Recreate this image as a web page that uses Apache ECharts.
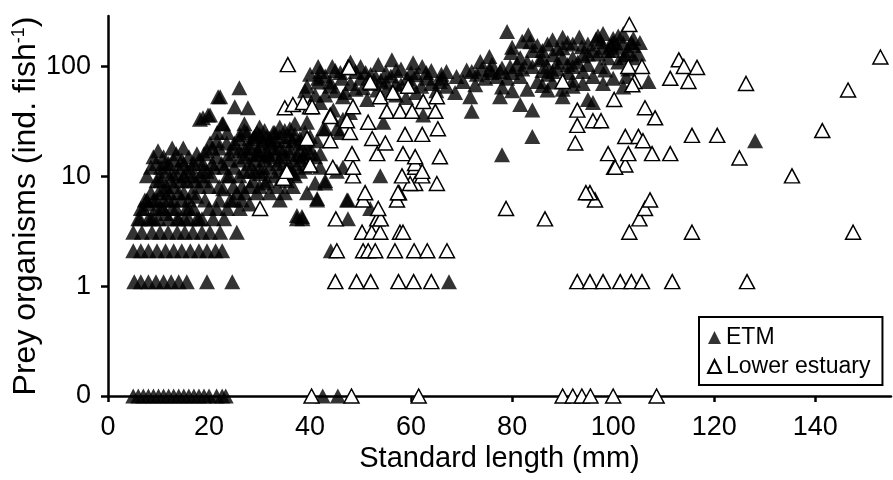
<!DOCTYPE html>
<html>
<head>
<meta charset="utf-8">
<script src="https://cdn.jsdelivr.net/npm/echarts@6/dist/echarts.min.js"></script>
<style>
  html, body { margin: 0; padding: 0; background: #fff; }
  #main { width: 893px; height: 480px; }
</style>
</head>
<body>
<div id="main"></div>
<script>
// [standard length (mm), prey organisms per fish]
const etmPoints = [
  // zero counts
  [5,0],[6,0],[7,0],[8,0],[9,0],[10,0],[11,0],[12,0],[13,0],[14,0],[15,0],[16,0],[17,0],[18,0],[19,0],[20,0],[21.5,0],[22.6,0],[23.3,0],[42.5,0],[45.5,0],
  // small counts
  [5.2,1],[6.5,1],[8,1],[9.5,1],[11,1],[12.5,1],[14,1],[15.6,1],[19.6,1],[24.6,1],[67.5,1],
  [5,2],[6.5,2],[8,2],[9.7,2],[11.4,2],[13,2],[14.6,2],[16.3,2],[18,2],[19.6,2],[21.3,2],[22.6,2],[44.1,2],
  [5,3],[6.7,3],[8.7,3],[10.3,3],[11.9,3],[13.7,3],[15.2,3],[16.8,3],[18.6,3],[20.2,3],[22.2,3],[25.5,3],[50.3,3],
  [6.3,4],[8,4],[9,4],[10.9,5],[13.7,4],[15.2,4],[17.6,4],[18.6,4],[20.8,4],[37.4,4],[38.5,4],[47.5,4],
  // 5-25 mm
  [7.3,6],[9.6,6],[10.9,7.5],[12.7,5],[14.6,6],[15.6,9],[16.6,7],[19.2,6],[18.8,11],[20.6,13],[19.6,17],
  [12.7,18],[14.9,18],[17.6,16],[20.2,20],[9.9,17],[9,15],[11.3,13],[7.7,10],[9.6,9],[11.6,8],[13.7,10],
  [14.6,14],[18.2,10],[7.7,6],[10.3,9],[11.6,11],[10.3,10],[12.7,10.5],[15.6,11],[16.8,10],[18.8,13],
  [6.5,5],[8.5,7],[12,6],[13,8],[16,5],[21.5,5],[22,8],
  [6,4],[7,5],[8,5.5],[8.5,4],[9,6],[9.5,5],[10,7],[10.5,5],[11,6],[11.5,4.5],[12,7],[12.5,9],[13,6],
  [13.5,5],[14,7],[14.5,9],[15,7],[15.5,5],[16,6],[17,5],[17.5,6.5],[18,8],[19,9],[19.5,11],[20,8],
  [20.5,10],[21,12],[21.5,15],[22,18],[22.5,13],[23,12],[23.5,20],[24,16],[8.5,12],[9.5,13],[10.5,12],
  [11,15],[12,13],[13,14],[13.5,16],[14,12],[15,13],[16,15],[16.5,12],[17,13],[18,14],[19,16],[17,9],
  [15,10],[10,4],[12,4],[14,4],[16,4],[18,4],[20,5],[22,6],[24,10],[23,4],
  [21.6,25],[22.6,30],[18.8,34],[20.2,36],[22.2,53],[25.1,43],[27.7,42],[26,64],[23.6,25],[24.8,18],
  [21.8,53],[18.2,33],[19.8,36],[22.8,30],[21.6,21],[20.6,18],
  // 25-45 mm
  [27.5,25],[28.7,22],[30.7,21],[32.7,25],[36,23],[29.7,17],[31.5,15.6],[23.6,10],[22.8,7.6],[24.8,8],
  [24.2,6],[23.6,5],[26.5,8],[28.7,9],[30.1,10.5],[31.5,9],[29.5,7],[33.5,8],[35.4,9],[37.4,4.3],
  [33.5,13],[35.4,12],[36.6,10.5],[26.1,24],[29.5,25],[31.5,23],[33,25],[35,21],[36.6,21],[28.1,18],
  [29.5,15.6],[31.5,17],[33,16],[34.7,17],[37.4,15.6],[40,13],[41.4,21],[42.6,27],[28.1,8],[31.1,8.6],
  [24.8,6],[26.1,5],[41.4,6],[38.4,4.2],[36.6,8],[39.4,7],[43,9],[42,12],[25,20],[27,18],[30,19],
  [32,20],[34,18],[38,20],[39,25],[37,30],[34,28],[30,28],[26,14],[28,13],[32,12],[34,14],[38,17],
  [36,18],[24,14],[27,30],[25,12],[29,11],[40,18],
  [26,22],[27,26],[28,20],[29,23],[30,24],[31,26],[32,22],[33,21],[34,23],[35,26],[36,27],[37,24],
  [38,22],[39,20],[40,23],[26,17],[27,15],[28,16],[29,14],[30,16],[31,14],[32,15],[33,18],[35,15],
  [36,16],[37,13],[38,14],[39,16],[40,16],[41,15],[26,10],[27,11],[28,11],[30,12],[31,11],[33,10],
  [34,11],[36,12],[37,10],[38,11],[39,12],[27,7],[30,8],[32,7],[34,6],[35,7],[26.5,6],[28,5.5],[25.5,7],
  // 40-70 mm
  [41.6,100],[44.4,100],[53.5,104],[56.2,115],[60.4,108],[62.2,100],[41.6,78],[44,72],[50.5,64],[53.3,61],
  [59.2,78],[63.2,78],[65.7,73],[51.3,50],[46.5,53],[42,47],[39.4,66],[44.6,40],[47.9,38],[62.4,36],
  [54.5,31],[39.4,31],[43,27],[45.9,25],[38.6,15],[42,16],[46.5,12],[53.9,10],[41,8.6],[43,8.6],
  [47.3,6],[41.4,6.2],[46.3,78],[47,58],[45.3,27],[46.5,33],[41.6,72],[44,66],[47.5,6],[51.9,5],
  [45.3,11],[49,90],[52,85],[57,70],[58,95],[55,88],[48,110],[50,100],[54,75],[60,88],[64,92],[66,85],
  [39,60],[40,85],[42,90],[43,82],[45,92],[46,88],[48,70],[49,62],[50,78],[51,88],[52,70],[53,80],
  [55,72],[56,82],[57,92],[58,68],[60,72],[61,84],[62,66],[63,88],[64,70],[65,60],[66,78],[67,90],
  [55,60],[57,55],[59,52],[61,58],[43,55],[45,60],[41,55],
  // 65-130 mm
  [67,66],[69,81],[70.3,73],[72,90],[72.7,68],[74.7,78],[75.6,93],[68.7,58],[71,93],[73.7,111],
  [75.5,123],[71.7,53],[72,39],[77.6,53],[81.6,45],[84,40],[84,23],[78,15.6],[95,50],[90,53],
  [87,61],[85,73],[81.6,81],[79,78],[77,81],[77.6,90],[87,100],[91,104],[95,104],[96,81],
  [85.5,115],[79.6,100],[79,208],[83.2,195],[83.6,168],[93.3,186],[96.6,178],[93.8,151],[79.8,134],[81.6,120],
  [88,128],[90,148],[97.6,168],[99.6,158],[102,164],[103.6,165],[105.3,165],[97.4,100],[98.4,93],[107,73],
  [102.6,81],[102.4,128],[96,47],[86,140],[89,110],[92,120],[94,90],[99,120],[100,140],[101,110],
  [103,95],[92,75],[82,95],[76,105],[85,155],[88,175],[91,165],[98,200],[101,190],[104,180],
  [73,85],[74,95],[76,88],[78,97],[80,88],[81,105],[83,110],[84,100],[86,92],[87,85],[88,90],[89,95],
  [90,120],[91,88],[92,100],[93,110],[94,125],[95,130],[96,140],[97,130],[98,150],[99,140],[100,165],
  [101,150],[102,120],[103,140],[104,120],[105,130],[80,150],[82,170],[84,140],[86,120],[87,160],
  [89,145],[90,185],[92,160],[95,160],[97,190],[100,180],[102,200],[104,155],[86,67],[88,72],[90,62],
  [92,66],[94,70],[98,70],[100,78],[102,65],[78,65],[80,60],[83,62],[128.1,21]
];

const lowerPoints = [
  [40.3,0],[48.2,0],[61.5,0],[90,0],[92,0],[93.8,0],[95.5,0],[100,0],[108.6,0],
  [45,1],[49.2,1],[52,1],[57.5,1],[60.5,1],[64,1],[92.9,1],[95.4,1],[98,1],[101.4,1],[103.6,1],[105.7,1],[111.7,1],[126.5,1],
  [45.3,2],[50.5,2],[51.5,2],[52.9,2],[56.8,2],[60.6,2],[63.2,2],[67.1,2],
  [50.3,3],[52.2,3],[53.9,3],[57.8,3],[58.4,3],[103.2,3],[115.6,3],[147.5,3],
  [45.1,4],[53.3,4],[54,4],[86.5,4],[105.2,4],
  [53.5,5],[78.8,5],[30.1,5],[106.3,5],
  [50.5,6],[57.2,6],[96.4,6],[107.3,6],
  [50.9,7],[57.6,7],[95.4,7],[94.6,7],[57.4,7],
  [60.8,8.5],[59.8,8.5],[65.1,8.5],[34.7,9.5],[35.4,11],
  [48.5,10],[58.2,10],[62.2,10],[135.4,10],
  [40,12.6],[48.5,12],[60.8,12],[44.5,12],[60.8,13],[62.2,11],[100.2,12],[102.4,12.6],[100.4,12],
  [48.3,16],[53.3,16],[58.4,16],[60.8,15],[65.7,15],[99,16],[103,16],[107.7,16],[111.3,16],[125,14.6],
  [39.4,22],[44,21],[47.9,25],[52.3,22],[54.9,20],[58.8,24],[62.2,24],[65.3,27],[92.5,20],[102.4,23],
  [105,23],[105.9,21],[115.6,23.5],[120.6,23.5],[141.4,26],
  [40,43],[44,36],[48.5,43],[51.5,31],[55.2,39],[57.8,39],[60.2,39],[62.4,48],[64.8,39],[35,42],
  [36.6,45],[38.6,47],[40.4,43],[44,35],[47.3,32],[92.9,40],[92.9,29],[96,32],[97.6,32],[100.2,50],
  [106.3,42],[108.3,34],
  [47.5,98],[51.9,72],[53.9,53],[56.4,58],[59.4,66],[65.1,53],[35.6,104],[47.7,98],[90,73],[113,115],
  [114,100],[116.6,98],[111.3,78],[114.9,73],[105.7,100],[103,100],[104.2,73],[103.8,68],[126.3,70],
  [146.5,61],[152.9,122],[103.2,241]
];

const xTicks = [0, 20, 40, 60, 80, 100, 120, 140];
const yTickCounts = [0, 1, 10, 100];

// counts drawn on a log scale, offset so that zero sits one decade below 1
const toLog = c => Math.log10(c + 0.1);
const yTickPos = [-1, 0, 1, 2];

const font = 'Liberation Sans, Arial, sans-serif';
const myChart = echarts.init(document.getElementById('main'));

const option = {
  backgroundColor: '#fff',
  animation: false,
  grid: { left: 108, right: 2, top: 16, bottom: 84, containLabel: false, outerBoundsMode: 'none' },
  xAxis: {
    type: 'value',
    min: 0,
    max: 155,
    name: 'Standard length (mm)',
    nameLocation: 'middle',
    nameGap: 48,
    nameMoveOverlap: false,
    nameTextStyle: { fontSize: 29, fontFamily: font, color: '#000' },
    splitLine: { show: false },
    axisLine: { onZero: false, lineStyle: { color: '#000', width: 2.5 } },
    axisTick: { customValues: xTicks, length: 6, lineStyle: { color: '#000', width: 2.5 } },
    axisLabel: { customValues: xTicks, margin: 18, fontSize: 27, fontFamily: font, color: '#000' }
  },
  yAxis: {
    type: 'value',
    min: -1,
    max: 2.46,
    name: 'Prey organisms (ind. fish{sup|-1})',
    nameLocation: 'middle',
    nameGap: 66,
    nameMoveOverlap: false,
    nameTextStyle: {
      fontSize: 32, fontFamily: font, color: '#000',
      rich: { sup: { fontSize: 18, fontFamily: font, color: '#000', verticalAlign: 'top', padding: [0, 0, 10, 0] } }
    },
    splitLine: { show: false },
    axisLine: { onZero: false, lineStyle: { color: '#000', width: 2.5 } },
    axisTick: { customValues: yTickPos, length: 7, lineStyle: { color: '#000', width: 2.5 } },
    axisLabel: {
      customValues: yTickPos,
      margin: 17, fontSize: 27, fontFamily: font, color: '#000',
      formatter: v => String(yTickCounts[Math.round(v) + 1])
    }
  },
  legend: {
    orient: 'vertical',
    left: 699,
    top: 317,
    padding: [9, 12, 7, 8],
    borderColor: '#000',
    borderWidth: 2,
    itemWidth: 13,
    itemHeight: 13,
    itemGap: 6,
    textStyle: { fontSize: 23, fontFamily: font, color: '#000' },
    data: [{ name: 'ETM', icon: 'triangle' }, { name: 'Lower estuary', icon: 'triangle' }]
  },
  series: [
    {
      name: 'ETM',
      type: 'scatter',
      symbol: 'triangle',
      symbolSize: [16, 15],
      clip: false,
      itemStyle: { color: '#000' },
      data: etmPoints.map(p => [p[0], toLog(p[1])])
    },
    {
      name: 'Lower estuary',
      type: 'scatter',
      symbol: 'triangle',
      symbolSize: [15, 14],
      clip: false,
      itemStyle: { color: '#fff', borderColor: '#000', borderWidth: 1.5, opacity: 1 },
      data: lowerPoints.map(p => [p[0], toLog(p[1])])
    }
  ]
};
myChart.setOption(option);
</script>
</body>
</html>
